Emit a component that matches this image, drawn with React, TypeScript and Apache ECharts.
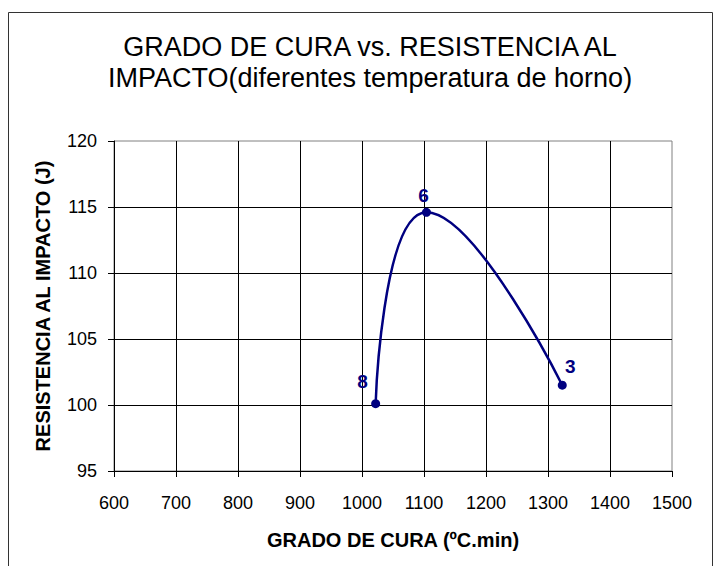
import React, { useEffect, useRef } from "react";
import * as echarts from "echarts";

const titleLines = [
  "GRADO DE CURA vs. RESISTENCIA AL",
  "IMPACTO(diferentes temperatura de horno)",
];
const xAxisName = "GRADO DE CURA (ºC.min)";
const yAxisName = "RESISTENCIA AL IMPACTO (J)";

const curaValues = [1022, 1104, 1323];
const resistenciaValues = [100.1, 114.6, 101.5];
const pointLabels = ["8", "6", "3"];
const labelOffsets = [
  [-13, -3],
  [-3, 2],
  [8, 0],
];

const xMin = 600;
const xMax = 1500;
const xStep = 100;
const yMin = 95;
const yMax = 120;
const yStep = 5;

export default function App() {
  const ref = useRef<HTMLDivElement>(null);

  useEffect(() => {
    if (!ref.current) return;
    const chart = echarts.init(ref.current, null, { renderer: "svg" });
    const navy = "#000080";
    const data = curaValues.map((x, i) => ({
      value: [x, resistenciaValues[i]],
      label: {
        show: true,
        formatter: pointLabels[i],
        position: "top",
        offset: labelOffsets[i],
      },
    }));
    chart.setOption({
      animation: false,
      backgroundColor: "#ffffff",
      textStyle: { fontFamily: "Liberation Sans, Arial, sans-serif" },
      grid: {
        left: 114,
        right: 46,
        top: 141,
        bottom: 95,
        show: true,
        borderColor: "#808080",
        borderWidth: 1,
        backgroundColor: "transparent",
      },
      graphic: [
        {
          type: "rect",
          shape: { x: 8.5, y: 12.5, width: 704, height: 600 },
          style: { fill: "none", stroke: "#333333", lineWidth: 1 },
          silent: true,
        },
        {
          type: "text",
          x: 370,
          y: 47,
          style: {
            text: titleLines[0],
            textAlign: "center",
            textVerticalAlign: "middle",
            font: "27px 'Liberation Sans', Arial, sans-serif",
            fill: "#000000",
          },
        },
        {
          type: "text",
          x: 370,
          y: 78,
          style: {
            text: titleLines[1],
            textAlign: "center",
            textVerticalAlign: "middle",
            font: "27px 'Liberation Sans', Arial, sans-serif",
            fill: "#000000",
          },
        },
      ],
      xAxis: {
        type: "value",
        min: xMin,
        max: xMax,
        interval: xStep,
        name: xAxisName,
        nameLocation: "middle",
        nameGap: 59,
        nameTextStyle: {
          fontSize: 20,
          fontWeight: "bold",
          color: "#000000",
          fontFamily: "Liberation Sans, Arial, sans-serif",
        },
        axisLine: { show: true, onZero: false, lineStyle: { color: "#000000", width: 1 } },
        axisTick: { show: true, length: 6, lineStyle: { color: "#000000" } },
        axisLabel: {
          fontSize: 18,
          color: "#000000",
          margin: 23,
          formatter: (v: number) => String(v),
        },
        splitLine: {
          show: true,
          showMinLine: false,
          showMaxLine: false,
          lineStyle: { color: "#000000", width: 1 },
        },
      },
      yAxis: {
        type: "value",
        min: yMin,
        max: yMax,
        interval: yStep,
        name: yAxisName,
        nameLocation: "middle",
        nameGap: 61,
        nameRotate: 90,
        nameTextStyle: {
          fontSize: 20,
          fontWeight: "bold",
          color: "#000000",
          fontFamily: "Liberation Sans, Arial, sans-serif",
        },
        axisLine: { show: true, onZero: false, lineStyle: { color: "#000000", width: 1 } },
        axisTick: { show: true, length: 6, lineStyle: { color: "#000000" } },
        axisLabel: {
          fontSize: 18,
          color: "#000000",
          margin: 17,
          formatter: (v: number) => String(v),
        },
        splitLine: {
          show: true,
          showMinLine: false,
          showMaxLine: false,
          lineStyle: { color: "#000000", width: 1 },
        },
      },
      series: [
        {
          type: "line",
          data,
          smooth: 0.5,
          symbol: "circle",
          symbolSize: 9,
          lineStyle: { color: navy, width: 2.5 },
          itemStyle: { color: navy },
          label: {
            color: navy,
            fontSize: 19,
            fontWeight: "bold",
            fontFamily: "Liberation Sans, Arial, sans-serif",
          },
        },
      ],
    });
    return () => chart.dispose();
  }, []);

  return (
    <div
      ref={ref}
      style={{ position: "fixed", left: 0, top: 0, width: 718, height: 566 }}
    />
  );
}
